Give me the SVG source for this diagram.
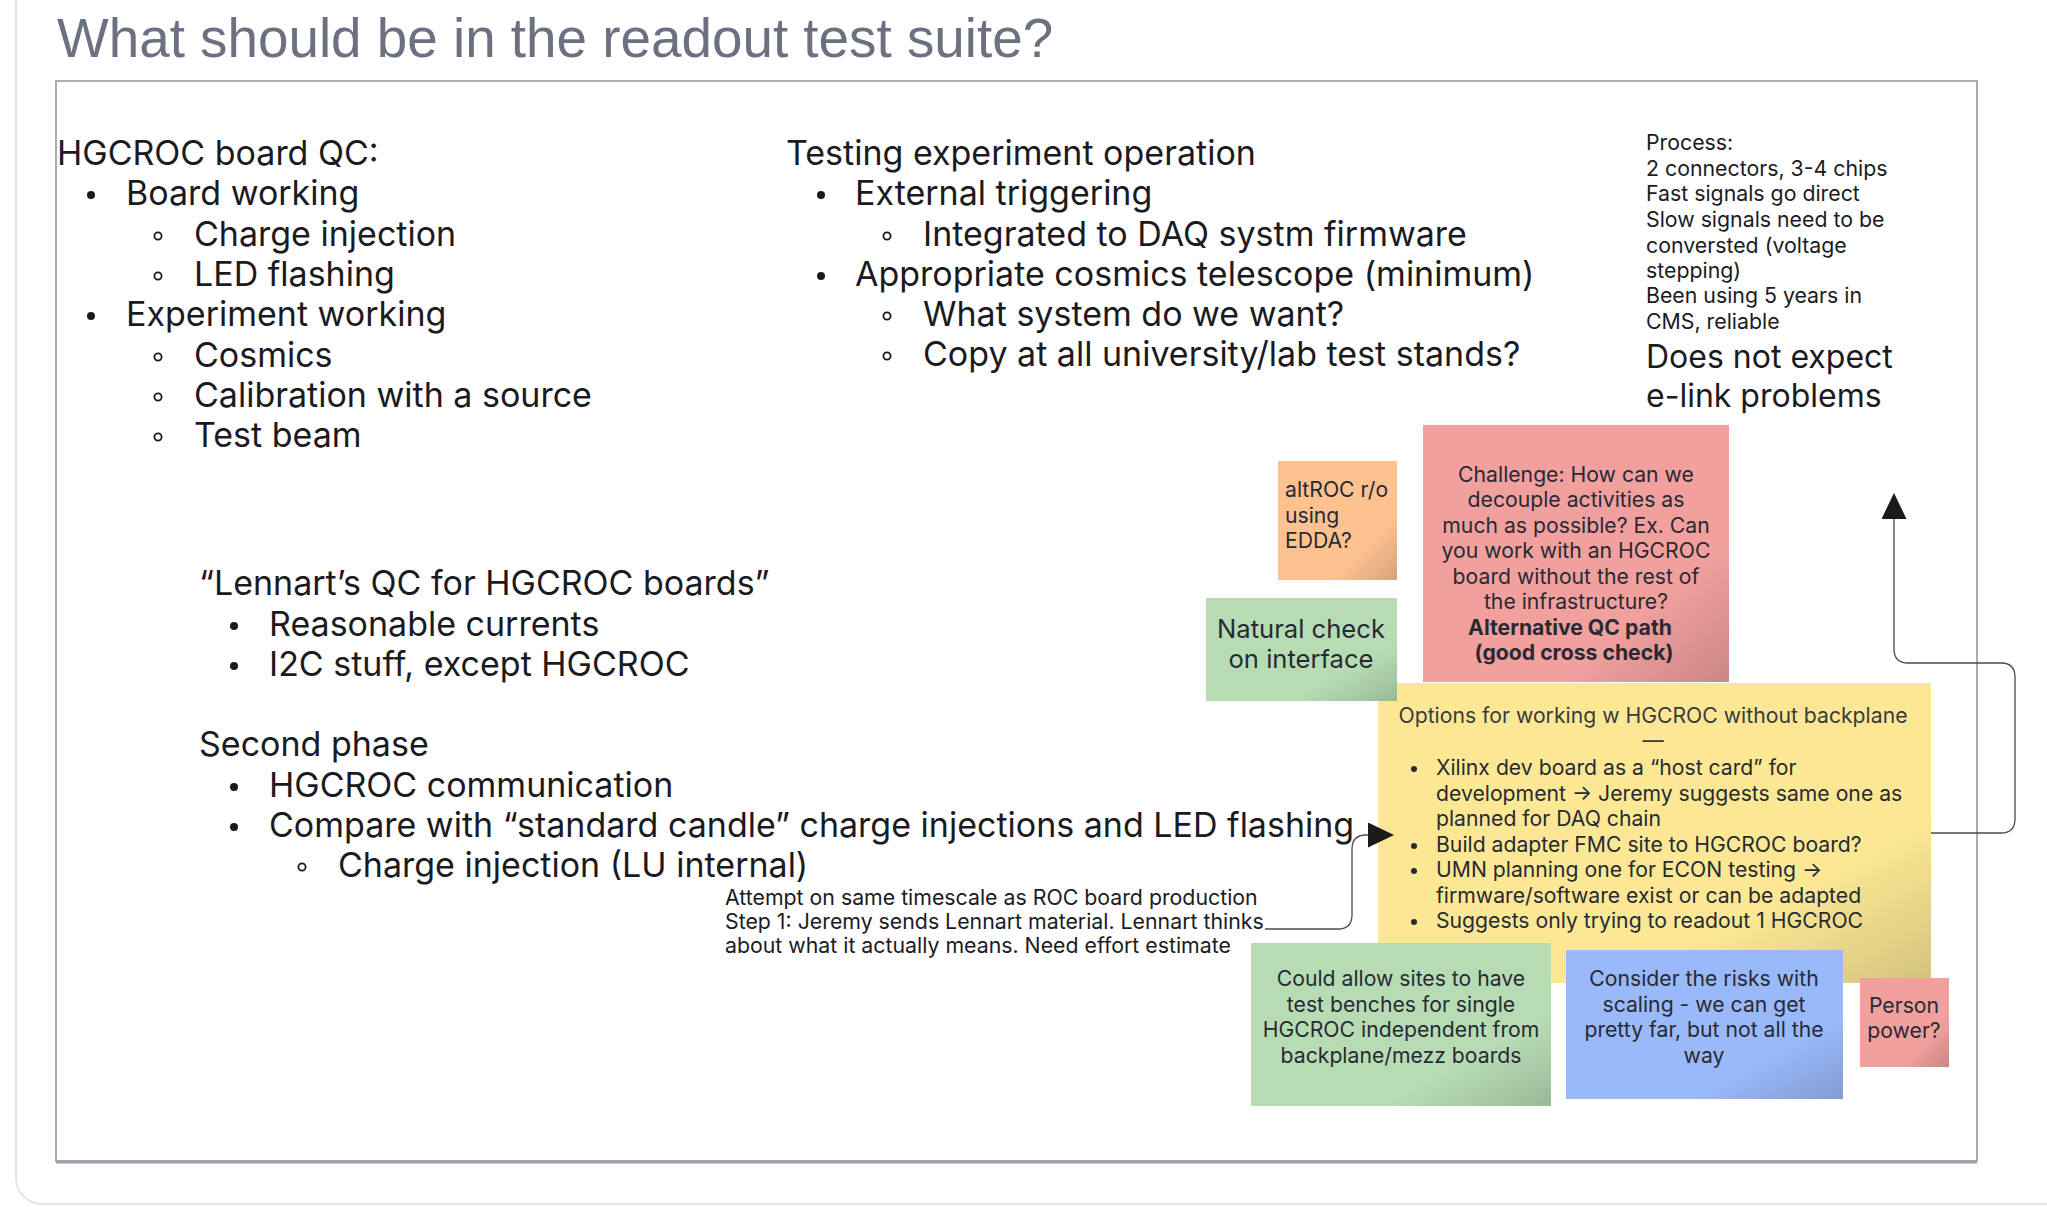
<svg xmlns="http://www.w3.org/2000/svg" width="2047" height="1207" viewBox="0 0 2047 1207">
<defs>
<style>
.body{font-family:Inter,"Liberation Sans",sans-serif;font-size:34px;fill:#1b1b1f}
.big{font-family:Inter,"Liberation Sans",sans-serif;font-size:32px;fill:#1b1b1f}
.sm{font-family:Inter,"Liberation Sans",sans-serif;font-size:21.3px;fill:#1b1b1f}
.note{font-family:Inter,"Liberation Sans",sans-serif;font-size:21.2px;fill:#272a33}
.c{text-anchor:middle}
.b{font-weight:700}
.dot{fill:#1b1b1f}
.ring{fill:none;stroke:#1b1b1f;stroke-width:1.8}
.conn{fill:none;stroke:#4a4a4a;stroke-width:1.3}
</style>
<linearGradient id="shade" x1="0" y1="0" x2="1" y2="1">
<stop offset="0" stop-color="#000" stop-opacity="0"/>
<stop offset="0.72" stop-color="#000" stop-opacity="0"/>
<stop offset="1" stop-color="#000" stop-opacity="0.16"/>
</linearGradient>
<marker id="arr" markerUnits="userSpaceOnUse" markerWidth="27" markerHeight="26" refX="0" refY="12.5" orient="auto" viewBox="0 0 27 26">
<path d="M0,0 L26,12.5 L0,25 z" fill="#1a1a1a"/>
</marker>
</defs>
<rect x="0" y="0" width="2047" height="1207" fill="#ffffff"/>
<rect x="16" y="-40" width="2100" height="1244" rx="26" fill="#ffffff" stroke="#e4e4e4" stroke-width="2"/>
<text x="57" y="57" style="font-family:'Liberation Sans',Arial,sans-serif;font-size:54.8px;fill:#6b7180">What should be in the readout test suite?</text>
<rect x="56" y="81" width="1921" height="1080" fill="#ffffff" stroke="#a9afba" stroke-width="2"/>
<line x1="56" y1="1162" x2="1977" y2="1162" stroke="#9aa1ad" stroke-width="3"/>

<g id="hgcroc-qc">
<text class="body" x="57" y="165">HGCROC board QC:</text>
<circle class="dot" cx="91" cy="195" r="4"/>
<text class="body" x="126" y="205">Board working</text>
<circle class="ring" cx="158" cy="236" r="3.6"/>
<text class="body" x="194" y="246">Charge injection</text>
<circle class="ring" cx="158" cy="276" r="3.6"/>
<text class="body" x="194" y="286">LED flashing</text>
<circle class="dot" cx="91" cy="316" r="4"/>
<text class="body" x="126" y="326">Experiment working</text>
<circle class="ring" cx="158" cy="357" r="3.6"/>
<text class="body" x="194" y="367">Cosmics</text>
<circle class="ring" cx="158" cy="397" r="3.6"/>
<text class="body" x="194" y="407">Calibration with a source</text>
<circle class="ring" cx="158" cy="437" r="3.6"/>
<text class="body" x="194" y="447">Test beam</text>
</g>

<g id="experiment-operation">
<text class="body" x="786" y="165">Testing experiment operation</text>
<circle class="dot" cx="821" cy="195" r="4"/>
<text class="body" x="855" y="205">External triggering</text>
<circle class="ring" cx="887" cy="236" r="3.6"/>
<text class="body" x="923" y="246">Integrated to DAQ systm firmware</text>
<circle class="dot" cx="821" cy="276" r="4"/>
<text class="body" x="855" y="286">Appropriate cosmics telescope (minimum)</text>
<circle class="ring" cx="887" cy="316" r="3.6"/>
<text class="body" x="923" y="326">What system do we want?</text>
<circle class="ring" cx="887" cy="356" r="3.6"/>
<text class="body" x="923" y="366">Copy at all university/lab test stands?</text>
</g>

<g id="process">
<text class="sm" x="1646" y="150">Process:</text>
<text class="sm" x="1646" y="176">2 connectors, 3-4 chips</text>
<text class="sm" x="1646" y="201">Fast signals go direct</text>
<text class="sm" x="1646" y="227">Slow signals need to be</text>
<text class="sm" x="1646" y="253">conversted (voltage</text>
<text class="sm" x="1646" y="278">stepping)</text>
<text class="sm" x="1646" y="303">Been using 5 years in</text>
<text class="sm" x="1646" y="329">CMS, reliable</text>
<text class="big" x="1646" y="368">Does not expect</text>
<text class="big" x="1646" y="407">e-link problems</text>
</g>

<g id="lennart-qc">
<text class="body" x="199" y="595">“Lennart’s QC for HGCROC boards”</text>
<circle class="dot" cx="234" cy="626" r="4"/>
<text class="body" x="269" y="636">Reasonable currents</text>
<circle class="dot" cx="234" cy="666" r="4"/>
<text class="body" x="269" y="676">I2C stuff, except HGCROC</text>
<text class="body" x="199" y="756">Second phase</text>
<circle class="dot" cx="234" cy="787" r="4"/>
<text class="body" x="269" y="797">HGCROC communication</text>
<circle class="dot" cx="234" cy="827" r="4"/>
<text class="body" x="269" y="837">Compare with “standard candle” charge injections and LED flashing</text>
<circle class="ring" cx="302" cy="867" r="3.6"/>
<text class="body" x="338" y="877">Charge injection (LU internal)</text>
</g>

<g id="attempt-note">
<text class="sm" x="725" y="905">Attempt on same timescale as ROC board production</text>
<text class="sm" x="725" y="929">Step 1: Jeremy sends Lennart material. Lennart thinks</text>
<text class="sm" x="725" y="953">about what it actually means. Need effort estimate</text>
</g>

<g id="options-note">
<rect x="1378" y="683" width="553" height="300" fill="#fce894"/>
<rect x="1378" y="683" width="553" height="300" fill="url(#shade)"/>
<text class="note c" x="1653" y="723" style="fill:#383a40">Options for working w HGCROC without backplane</text>
<text class="note c" x="1653" y="748" style="fill:#383a40">—</text>
<circle cx="1414" cy="769" r="3" fill="#272a33"/>
<text class="note" x="1436" y="775">Xilinx dev board as a “host card” for</text>
<text class="note" x="1436" y="801">development → Jeremy suggests same one as</text>
<text class="note" x="1436" y="826">planned for DAQ chain</text>
<circle cx="1414" cy="846" r="3" fill="#272a33"/>
<text class="note" x="1436" y="852">Build adapter FMC site to HGCROC board?</text>
<circle cx="1414" cy="871" r="3" fill="#272a33"/>
<text class="note" x="1436" y="877">UMN planning one for ECON testing →</text>
<text class="note" x="1436" y="903">firmware/software exist or can be adapted</text>
<circle cx="1414" cy="922" r="3" fill="#272a33"/>
<text class="note" x="1436" y="928">Suggests only trying to readout 1 HGCROC</text>
</g>

<g id="challenge-note">
<rect x="1423" y="425" width="306" height="257" fill="#f1a09e"/>
<rect x="1423" y="425" width="306" height="257" fill="url(#shade)"/>
<text class="note c" x="1576" y="482">Challenge: How can we</text>
<text class="note c" x="1576" y="507">decouple activities as</text>
<text class="note c" x="1576" y="533">much as possible? Ex. Can</text>
<text class="note c" x="1576" y="558">you work with an HGCROC</text>
<text class="note c" x="1576" y="584">board without the rest of</text>
<text class="note c" x="1576" y="609">the infrastructure?</text>
<text class="note c b" x="1570" y="635">Alternative QC path</text>
<text class="note c b" x="1574" y="660">(good cross check)</text>
</g>

<g id="altroc-note">
<rect x="1278" y="461" width="119" height="119" fill="#fdc290"/>
<rect x="1278" y="461" width="119" height="119" fill="url(#shade)"/>
<text class="note" x="1285" y="497">altROC r/o</text>
<text class="note" x="1285" y="523">using</text>
<text class="note" x="1285" y="548">EDDA?</text>
</g>

<g id="natural-check-note">
<rect x="1206" y="598" width="191" height="103" fill="#b7dcb4"/>
<rect x="1206" y="598" width="191" height="103" fill="url(#shade)"/>
<text class="note c" x="1301" y="638" style="font-size:25.6px">Natural check</text>
<text class="note c" x="1301" y="668" style="font-size:25.6px">on interface</text>
</g>

<g id="sites-note">
<rect x="1251" y="943" width="300" height="163" fill="#b7dcb4"/>
<rect x="1251" y="943" width="300" height="163" fill="url(#shade)"/>
<text class="note c" x="1401" y="986">Could allow sites to have</text>
<text class="note c" x="1401" y="1012">test benches for single</text>
<text class="note c" x="1401" y="1037">HGCROC independent from</text>
<text class="note c" x="1401" y="1063">backplane/mezz boards</text>
</g>

<g id="risks-note">
<rect x="1566" y="950" width="277" height="149" fill="#9ab9fb"/>
<rect x="1566" y="950" width="277" height="149" fill="url(#shade)"/>
<text class="note c" x="1704" y="986">Consider the risks with</text>
<text class="note c" x="1704" y="1012">scaling - we can get</text>
<text class="note c" x="1704" y="1037">pretty far, but not all the</text>
<text class="note c" x="1704" y="1063">way</text>
</g>

<g id="person-power-note">
<rect x="1860" y="978" width="89" height="89" fill="#f1a09e"/>
<rect x="1860" y="978" width="89" height="89" fill="url(#shade)"/>
<text class="note c" x="1904" y="1013">Person</text>
<text class="note c" x="1904" y="1038">power?</text>
</g>

<g id="connectors">
<path class="conn" d="M1265,929 H1338 Q1352,929 1352,915 V849 Q1352,835 1366,835 H1368" marker-end="url(#arr)"/>
<path class="conn" d="M1931,833 H2001 Q2015,833 2015,819 V677 Q2015,663 2001,663 H1908 Q1894,663 1894,649 V519" marker-end="url(#arr)"/>
</g>
</svg>
